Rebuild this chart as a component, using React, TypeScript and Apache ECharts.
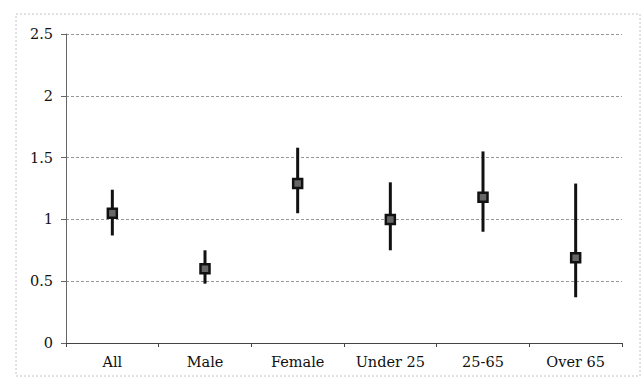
import React, { useEffect, useRef } from "react";
import * as echarts from "echarts";

const categories = ["All", "Male", "Female", "Under 25", "25-65", "Over 65"];
const estimates = [1.05, 0.6, 1.29, 1.0, 1.18, 0.69];
const lowerBounds = [0.87, 0.48, 1.05, 0.75, 0.9, 0.37];
const upperBounds = [1.24, 0.75, 1.58, 1.3, 1.55, 1.29];
const yTicks = [0, 0.5, 1, 1.5, 2, 2.5];

export default function App() {
  const ref = useRef<HTMLDivElement>(null);
  useEffect(() => {
    document.body.style.margin = "0";
    if (!ref.current) return;
    const chart = echarts.init(ref.current, undefined, { renderer: "svg" });
    const font = "'DejaVu Serif', 'Liberation Serif', serif";
    chart.setOption({
      animation: false,
      backgroundColor: "#fff",
      graphic: [
        {
          type: "rect",
          shape: { x: 16, y: 14, width: 624, height: 362 },
          style: { fill: "none", stroke: "#c4c4c4", lineWidth: 1, lineDash: [2, 2] },
          silent: true,
        },
      ],
      grid: { left: 66, right: 22, top: 34, bottom: 38 },
      xAxis: {
        type: "category",
        data: categories,
        boundaryGap: true,
        axisLine: { lineStyle: { color: "#444", width: 1 } },
        axisTick: { show: true, alignWithLabel: false, length: 4, lineStyle: { color: "#444" } },
        axisLabel: { color: "#111", fontFamily: font, fontSize: 14.5, margin: 11 },
      },
      yAxis: {
        type: "value",
        min: 0,
        max: 2.5,
        interval: 0.5,
        axisLine: { show: true, lineStyle: { color: "#666", width: 1 } },
        axisTick: { show: true, length: 5, lineStyle: { color: "#666" } },
        axisLabel: {
          color: "#111",
          fontFamily: font,
          fontSize: 14.5,
          margin: 13,
          formatter: (v: number) => (yTicks.includes(v) ? String(v) : ""),
        },
        splitLine: { show: true, lineStyle: { color: "#999", type: [3, 2], width: 1 } },
      },
      series: [
        {
          type: "custom",
          data: categories.map((_, i) => [i, lowerBounds[i], upperBounds[i]]),
          renderItem: (params: any, api: any) => {
            const p1 = api.coord([api.value(0), api.value(1)]);
            const p2 = api.coord([api.value(0), api.value(2)]);
            return {
              type: "line",
              shape: { x1: p1[0], y1: p1[1], x2: p2[0], y2: p2[1] },
              style: { stroke: "#111", lineWidth: 3 },
            };
          },
          z: 2,
        },
        {
          type: "scatter",
          data: categories.map((c, i) => [i, estimates[i]]),
          symbol: "rect",
          symbolSize: 9,
          itemStyle: { color: "#666", borderColor: "#111", borderWidth: 2.5, opacity: 1 },
          z: 3,
        },
      ],
    });
    return () => chart.dispose();
  }, []);
  return <div ref={ref} style={{ width: 644, height: 381 }} />;
}
